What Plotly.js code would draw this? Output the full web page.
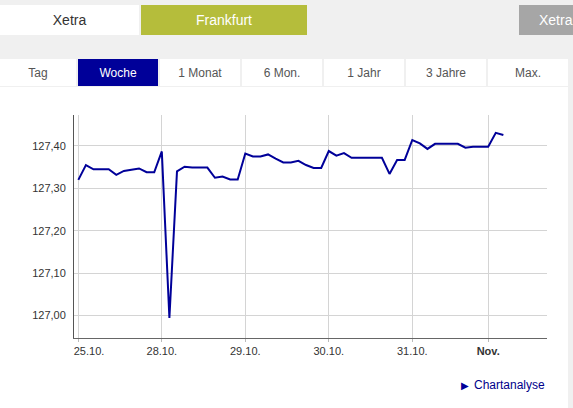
<!DOCTYPE html>
<html>
<head>
<meta charset="utf-8">
<script src="https://cdn.plot.ly/plotly-3.0.1.min.js"></script>
<style>
  html, body { margin:0; padding:0; width:573px; height:408px; overflow:hidden; background:#f0f0f0; font-family:"Liberation Sans", Arial, sans-serif; }
  .box { position:absolute; display:flex; align-items:center; justify-content:center; box-sizing:border-box; }
  #chart { position:absolute; left:0; top:87px; width:568px; height:321px; background:#fff; }
  #link { position:absolute; left:461px; top:378px; font-size:12px; color:#00008b; white-space:nowrap; }
  #link span.tri { color:#000099; font-size:10px; margin-right:5px; }
</style>
</head>
<body>
<div id="topbar"></div>
<div id="tabs"></div>
<div id="chart"></div>
<div id="link"><span class="tri">&#9654;</span>Chartanalyse</div>
<script>
// ---- data ----
var dayLabels = ["\u00a0\u00a0\u00a0\u00a0\u00a0\u00a0\u00a025.10.", "28.10.", "29.10.", "30.10.", "31.10.", "<b>Nov.</b>"];
var dayStartIndex = [0, 11, 22, 33, 44, 54];
var prices = [
  127.320, 127.355, 127.345, 127.345, 127.345, 127.332, 127.341, 127.344, 127.347, 127.338, 127.338,
  127.387, 126.994, 127.340, 127.351, 127.349, 127.349, 127.349, 127.325, 127.328, 127.321, 127.321,
  127.382, 127.375, 127.375, 127.380, 127.370, 127.361, 127.361, 127.365, 127.355, 127.348, 127.348,
  127.388, 127.377, 127.383, 127.372, 127.372, 127.372, 127.372, 127.372, 127.334, 127.367, 127.367,
  127.414, 127.406, 127.393, 127.405, 127.405, 127.405, 127.405, 127.396, 127.398, 127.398,
  127.398, 127.431, 127.426
];
var yTicks = [127.00, 127.10, 127.20, 127.30, 127.40];
var exchangeTabs = ["Xetra", "Frankfurt", "Xetra"];
var periodTabs = ["Tag", "Woche", "1 Monat", "6 Mon.", "1 Jahr", "3 Jahre", "Max."];

// ---- header boxes ----
var topBar = document.getElementById("topbar");
var topDefs = [
  {l:0, w:139, bg:"#fff", c:"#333"},
  {l:141, w:166, bg:"#b5bd3b", c:"#fff"},
  {l:519, w:60, bg:"#a6a6a6", c:"#fff"}
];
exchangeTabs.forEach(function(t, i){
  var d = topDefs[i];
  var el = document.createElement("div");
  el.className = "box";
  el.style.cssText = "left:"+d.l+"px;top:5px;width:"+d.w+"px;height:30px;background:"+d.bg+";color:"+d.c+";font-size:14px;" + (i==2 ? "justify-content:flex-start;padding-left:20px;" : "");
  el.textContent = t;
  topBar.appendChild(el);
});
var tabsEl = document.getElementById("tabs");
var tabL = [0, 78, 160, 242, 324, 406, 488];
periodTabs.forEach(function(t, i){
  var el = document.createElement("div");
  el.className = "box";
  var active = i === 1;
  el.style.cssText = "left:"+tabL[i]+"px;top:59px;width:"+(i==0?76:80)+"px;height:27px;font-size:12px;background:"+(active?"#000099":"#fff")+";color:"+(active?"#fff":"#555")+";";
  el.textContent = t;
  tabsEl.appendChild(el);
});

// ---- chart ----
var xs = prices.map(function(_, i){ return i; });
var trace = {
  x: xs, y: prices, type: "scatter", mode: "lines",
  line: {color: "#000099", width: 2}, hoverinfo: "skip"
};
var layout = {
  width: 568, height: 321,
  margin: {l: 74, r: 21, t: 28, b: 70},
  paper_bgcolor: "#fff", plot_bgcolor: "#fff",
  separators: ",.",
  showlegend: false,
  font: {family: "Liberation Sans, Arial, sans-serif", size: 11, color: "#333"},
  xaxis: {
    range: [-0.57, 61.75],
    tickmode: "array", tickvals: dayStartIndex, ticktext: dayLabels,
    showgrid: true, gridcolor: "#d4d4d4", gridwidth: 1,
    showline: true, linecolor: "#666", linewidth: 1,
    ticks: "outside", ticklen: 3, tickcolor: "#bbb",
    zeroline: false, fixedrange: true
  },
  yaxis: {
    range: [126.947, 127.473],
    tickmode: "array", tickvals: yTicks, tickformat: ".2f",
    showgrid: true, gridcolor: "#d4d4d4", gridwidth: 1,
    showline: true, linecolor: "#555", linewidth: 1,
    ticks: "", ticklabelstandoff: 5,
    zeroline: false, fixedrange: true
  }
};
Plotly.newPlot("chart", [trace], layout, {staticPlot: true, displayModeBar: false});
</script>
</body>
</html>
